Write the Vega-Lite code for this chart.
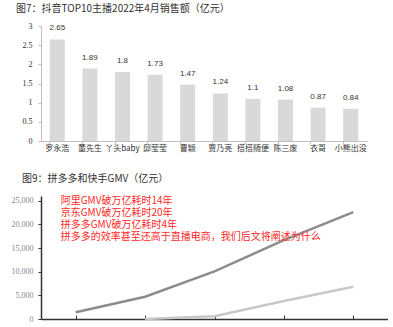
{
  "$schema": "https://vega.github.io/schema/vega-lite/v6.json",
  "padding": {"left": 11, "top": 4, "right": 0, "bottom": 0},
  "background": "white",
  "spacing": 21,
  "config": {
    "view": {"stroke": null},
    "title": {"font": "Noto Sans CJK SC", "fontSize": 10, "fontWeight": "normal", "color": "#333333", "anchor": "start", "frame": "bounds"}
  },
  "vconcat": [
    {
      "width": 326,
      "height": 115,
      "title": {"text": "图7：抖音TOP10主播2022年4月销售额（亿元）", "offset": 8, "dx": -6},
      "data": {"values": [
        {"name": "罗永浩", "sales": 2.65},
        {"name": "董先生", "sales": 1.89},
        {"name": "丫头baby", "sales": 1.8},
        {"name": "邱莹莹", "sales": 1.73},
        {"name": "曹颖", "sales": 1.47},
        {"name": "贾乃亮", "sales": 1.24},
        {"name": "搭搭随便", "sales": 1.1},
        {"name": "陈三废", "sales": 1.08},
        {"name": "衣哥", "sales": 0.87},
        {"name": "小熊出没", "sales": 0.84}
      ]},
      "encoding": {
        "x": {"field": "name", "type": "nominal", "sort": null,
          "scale": {"paddingInner": 0.54, "paddingOuter": 0.27},
          "axis": {"title": null, "labelAngle": 0, "labelFont": "Noto Sans CJK SC", "labelFontSize": 8, "labelColor": "#333333", "domainColor": "#bfbfbf", "tickColor": "#bfbfbf", "bandPosition": 0, "tickSize": 3, "labelPadding": 0}},
        "y": {"field": "sales", "type": "quantitative",
          "scale": {"domain": [0, 3]},
          "axis": {"title": null, "grid": false, "values": [0, 0.5, 1, 1.5, 2, 2.5, 3], "format": "~g", "labelFont": "Liberation Serif", "labelFontSize": 8, "labelColor": "#333333", "domainColor": "#bfbfbf", "tickColor": "#bfbfbf", "tickSize": 3, "labelPadding": 6}}
      },
      "layer": [
        {"mark": {"type": "bar", "color": "#d9d9d9"}},
        {"mark": {"type": "text", "dy": -7, "font": "Liberation Sans", "fontSize": 8, "color": "#333333", "baseline": "bottom"},
          "encoding": {"text": {"field": "sales", "type": "quantitative", "format": "~g"}}}
      ]
    },
    {
      "width": 347,
      "height": 123,
      "title": {"text": "图9：拼多多和快手GMV（亿元）", "offset": 12, "dx": 11},
      "layer": [
        {
          "data": {"values": [
            {"year": "2017", "series": "拼多多", "gmv": 1412},
            {"year": "2018", "series": "拼多多", "gmv": 4716},
            {"year": "2019", "series": "拼多多", "gmv": 10066},
            {"year": "2020", "series": "拼多多", "gmv": 16676},
            {"year": "2021", "series": "拼多多", "gmv": 22600},
            {"year": "2018", "series": "快手", "gmv": 10},
            {"year": "2019", "series": "快手", "gmv": 596},
            {"year": "2020", "series": "快手", "gmv": 3812},
            {"year": "2021", "series": "快手", "gmv": 6800}
          ]},
          "mark": {"type": "line", "strokeWidth": 2.5},
          "encoding": {
            "x": {"field": "year", "type": "ordinal",
              "scale": {"domain": ["2017", "2018", "2019", "2020", "2021"], "paddingInner": 0, "paddingOuter": 0},
              "axis": {"title": null, "labels": false, "domainColor": "#333333", "domainWidth": 1.5, "tickColor": "#333333", "tickWidth": 1, "bandPosition": 0, "tickSize": -4}},
            "y": {"field": "gmv", "type": "quantitative",
              "scale": {"domain": [0, 25000]},
              "axis": {"title": null, "grid": false, "values": [0, 5000, 10000, 15000, 20000, 25000], "format": ",.0f", "labelOverlap": false, "labelFont": "Liberation Serif", "labelFontSize": 8, "labelColor": "#888888", "domainColor": "#333333", "domainWidth": 1.5, "tickColor": "#333333", "tickSize": 3, "labelPadding": 5}},
            "color": {"field": "series", "type": "nominal", "scale": {"domain": ["拼多多", "快手"], "range": ["#8c8c8c", "#c8c8c8"]}, "legend": null}
          }
        },
        {
          "data": {"values": [
            {"note": "阿里GMV破万亿耗时14年\n京东GMV破万亿耗时20年\n拼多多GMV破万亿耗时4年\n拼多多的效率甚至还高于直播电商，我们后文将阐述为什么"}
          ]},
          "mark": {"type": "text", "align": "left", "baseline": "middle", "lineBreak": "\n", "lineHeight": 12, "font": "Noto Sans CJK SC", "fontSize": 10, "color": "#ff2a2a", "dx": -15},
          "encoding": {
            "x": {"datum": "2017", "type": "ordinal",
              "axis": {"title": null, "labels": false, "domainColor": "#333333", "domainWidth": 1.5, "tickColor": "#333333", "tickWidth": 1, "bandPosition": 0, "tickSize": -4}},
            "y": {"datum": 25000, "type": "quantitative",
              "axis": {"title": null, "grid": false, "values": [0, 5000, 10000, 15000, 20000, 25000], "format": ",.0f", "labelOverlap": false, "labelFont": "Liberation Serif", "labelFontSize": 8, "labelColor": "#888888", "domainColor": "#333333", "domainWidth": 1.5, "tickColor": "#333333", "tickSize": 3, "labelPadding": 5}},
            "text": {"field": "note"}
          }
        }
      ]
    }
  ]
}
